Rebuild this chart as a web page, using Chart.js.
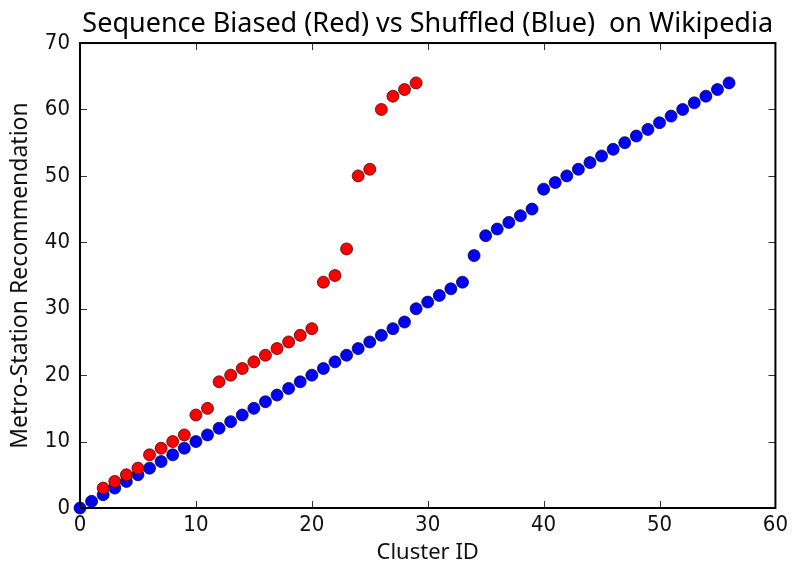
<!DOCTYPE html>
<html>
<head>
<meta charset="utf-8">
<script src="https://cdn.jsdelivr.net/npm/chart.js@4"></script>
<style>
  html, body { margin: 0; padding: 0; background: #fff; }
  #wrap { width: 792px; height: 566px; }
</style>
</head>
<body>
<div id="wrap"><canvas id="chart" width="792" height="566"></canvas></div>
<script>
// cluster ids and recommendations
const redX = [2, 3, 4, 5, 6, 7, 8, 9, 10, 11, 12, 13, 14, 15, 16, 17, 18, 19, 20, 21, 22, 23, 24, 25, 26, 27, 28, 29];
const redY = [3, 4, 5, 6, 8, 9, 10, 11, 14, 15, 19, 20, 21, 22, 23, 24, 25, 26, 27, 34, 35, 39, 50, 51, 60, 62, 63, 64];

const blueX = [0, 1, 2, 3, 4, 5, 6, 7, 8, 9, 10, 11, 12, 13, 14, 15, 16, 17, 18, 19, 20, 21, 22, 23, 24, 25, 26, 27, 28,
  29, 30, 31, 32, 33, 34, 35, 36, 37, 38, 39, 40, 41, 42, 43, 44, 45, 46, 47, 48, 49, 50, 51, 52, 53, 54, 55, 56];
const blueY = [0, 1, 2, 3, 4, 5, 6, 7, 8, 9, 10, 11, 12, 13, 14, 15, 16, 17, 18, 19, 20, 21, 22, 23, 24, 25, 26, 27, 28,
  30, 31, 32, 33, 34, 38, 41, 42, 43, 44, 45, 48, 49, 50, 51, 52, 53, 54, 55, 56, 57, 58, 59, 60, 61, 62, 63, 64];

const xTicks = [0, 10, 20, 30, 40, 50, 60];
const yTicks = [0, 10, 20, 30, 40, 50, 60, 70];

const FONT = '"Noto Sans", "Open Sans", sans-serif';
const TICK_FONT = '"Liberation Sans Narrow", "DejaVu Sans Condensed", "Noto Sans", sans-serif';

// matplotlib-style inward ticks on all four sides
const inwardTicks = {
  id: 'inwardTicks',
  afterDatasetsDraw(chart) {
    const { ctx, chartArea: a, scales: { x, y } } = chart;
    const len = 7;
    ctx.save();
    ctx.strokeStyle = '#333';
    ctx.lineWidth = 1;
    ctx.beginPath();
    xTicks.forEach(v => {
      const px = Math.round(x.getPixelForValue(v)) + 0.5;
      ctx.moveTo(px, a.bottom); ctx.lineTo(px, a.bottom - len);
      ctx.moveTo(px, a.top); ctx.lineTo(px, a.top + len);
    });
    yTicks.forEach(v => {
      const py = Math.round(y.getPixelForValue(v)) + 0.5;
      ctx.moveTo(a.left, py); ctx.lineTo(a.left + len, py);
      ctx.moveTo(a.right, py); ctx.lineTo(a.right - len, py);
    });
    ctx.stroke();
    // frame
    ctx.strokeStyle = '#000';
    ctx.lineWidth = 2;
    ctx.strokeRect(a.left, a.top, a.right - a.left, a.bottom - a.top);
    ctx.restore();
  }
};

new Chart(document.getElementById('chart'), {
  type: 'scatter',
  data: {
    datasets: [{
      label: 'Sequence Biased',
      data: redX.map((v, i) => ({ x: v, y: redY[i] })),
      backgroundColor: '#ff0000',
      borderColor: 'rgba(60,0,0,0.75)',
      borderWidth: 1,
      pointRadius: 6
    }, {
      label: 'Shuffled',
      data: blueX.map((v, i) => ({ x: v, y: blueY[i] })),
      backgroundColor: '#0000ff',
      borderColor: 'rgba(0,0,60,0.75)',
      borderWidth: 1,
      pointRadius: 6
    }]
  },
  options: {
    responsive: false,
    animation: false,
    clip: false,
    layout: { padding: { left: 0, right: 12, top: 0, bottom: 0 } },
    plugins: {
      legend: { display: false },
      tooltip: { enabled: false },
      title: {
        display: true,
        fullSize: false,
        text: 'Sequence Biased (Red) vs Shuffled (Blue)  on Wikipedia',
        color: '#000',
        font: { family: FONT, size: 27, weight: 'normal', lineHeight: 1.15 },
        padding: { top: 8.5, bottom: 3.5 }
      }
    },
    scales: {
      x: {
        type: 'linear',
        min: 0, max: 60,
        afterBuildTicks: s => { s.ticks = xTicks.map(v => ({ value: v })); },
        afterFit: s => { s.height = 58; },
        grid: { display: false, drawTicks: false },
        border: { display: false },
        ticks: { color: '#111', padding: 4, font: { family: TICK_FONT, size: 22 } },
        title: {
          display: true, text: 'Cluster ID', color: '#111',
          font: { family: FONT, size: 22 }, padding: { top: 0, bottom: 0 }
        }
      },
      y: {
        type: 'linear',
        min: 0, max: 70,
        afterBuildTicks: s => { s.ticks = yTicks.map(v => ({ value: v })); },
        afterFit: s => { s.width = 80; },
        grid: { display: false, drawTicks: false },
        border: { display: false },
        ticks: { color: '#111', padding: 10, font: { family: TICK_FONT, size: 22 } },
        title: {
          display: true, text: 'Metro-Station Recommendation', color: '#111',
          font: { family: FONT, size: 23 }, padding: { top: 7, bottom: 0 }
        }
      }
    }
  },
  plugins: [inwardTicks]
});
</script>
</body>
</html>
